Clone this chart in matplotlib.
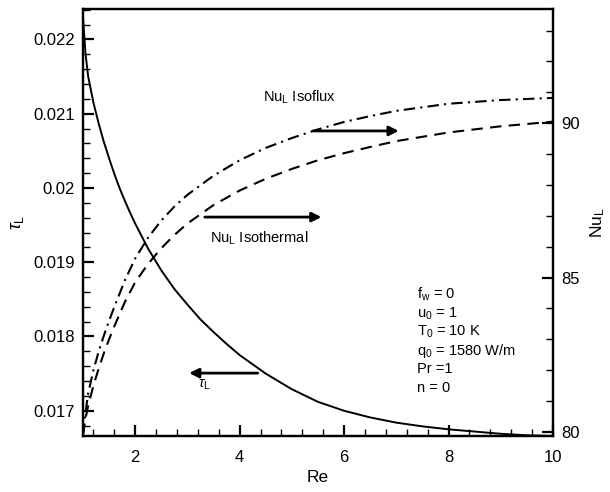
import numpy as np
import matplotlib
matplotlib.use('Agg')
import matplotlib.pyplot as plt
from matplotlib.ticker import MultipleLocator

plt.rcParams['font.family'] = ['Liberation Sans', 'DejaVu Sans']
plt.rcParams['mathtext.fontset'] = 'custom'
plt.rcParams['mathtext.rm'] = 'Liberation Sans'
plt.rcParams['mathtext.it'] = 'Liberation Sans:italic'

# shear stress tau_L vs Re (left axis)
re_tau = [1.0, 1.05, 1.1, 1.2, 1.3, 1.4, 1.5, 1.6, 1.7, 1.8, 1.9, 2.0, 2.25, 2.5,
          2.75, 3.0, 3.25, 3.5, 3.75, 4.0, 4.5, 5.0, 5.5, 6.0, 6.5, 7.0, 7.5, 8.0,
          8.5, 9.0, 9.5, 10.0]
tau_L = [0.02230, 0.02180, 0.02150, 0.02115, 0.02087, 0.02062, 0.02040, 0.02019,
         0.02000, 0.01983, 0.01967, 0.01952, 0.01918, 0.01889, 0.01864, 0.01843,
         0.01823, 0.01806, 0.01790, 0.01775, 0.01750, 0.01729, 0.01712, 0.01700,
         0.01691, 0.01684, 0.01679, 0.01675, 0.01672, 0.01669, 0.01667, 0.01666]

# Nusselt number vs Re (right axis)
re_nu = [1.0, 1.05, 1.1, 1.2, 1.3, 1.4, 1.5, 1.6, 1.8, 2.0, 2.25, 2.5, 2.75, 3.0,
         3.5, 4.0, 4.5, 5.0, 5.5, 6.0, 6.5, 7.0, 8.0, 9.0, 10.0]
nu_isoflux = [79.9, 80.65, 81.25, 82.0, 82.6, 83.12, 83.6, 84.05, 84.9, 85.62,
              86.3, 86.85, 87.3, 87.68, 88.3, 88.8, 89.2, 89.52, 89.8, 90.04,
              90.23, 90.4, 90.63, 90.75, 90.82]
nu_isothermal = [79.9, 80.45, 80.85, 81.5, 82.05, 82.55, 83.0, 83.42, 84.2, 84.85,
                 85.45, 85.95, 86.38, 86.75, 87.35, 87.82, 88.2, 88.52, 88.8, 89.03,
                 89.23, 89.42, 89.7, 89.9, 90.05]

params = ['f$_\\mathrm{w}$ = 0', 'u$_\\mathrm{0}$ = 1', 'T$_\\mathrm{0}$ = 10 K',
          'q$_\\mathrm{0}$ = 1580 W/m', 'Pr =1', 'n = 0']

fig = plt.figure(figsize=(6.1, 4.92), dpi=100)
ax = fig.add_axes([0.136, 0.1138, 0.7705, 0.868])
ax2 = ax.twinx()

ax.plot(re_tau, tau_L, color='k', lw=1.4)
ax2.plot(re_nu, nu_isoflux, color='k', lw=1.5, dashes=(5.5, 2.5, 1, 2.5))
ax2.plot(re_nu, nu_isothermal, color='k', lw=1.5, dashes=(5.5, 3.5))

ax.set_xlim(1, 10)
ax.set_ylim(0.01666, 0.02241)
ax2.set_ylim(79.87, 93.7)

ax.xaxis.set_major_locator(MultipleLocator(2))
ax.xaxis.set_minor_locator(MultipleLocator(0.4))
ax.yaxis.set_major_locator(MultipleLocator(0.001))
ax.yaxis.set_minor_locator(MultipleLocator(0.0002))
ax2.yaxis.set_major_locator(MultipleLocator(5))
ax2.yaxis.set_minor_locator(MultipleLocator(1))
ax.yaxis.set_major_formatter(plt.FuncFormatter(lambda v, p: ('%.3f' % v).rstrip('0')))

for a in (ax, ax2):
    for s in a.spines.values():
        s.set_linewidth(1.6)
ax.tick_params(which='both', direction='in', top=False, right=False, labelsize=12)
ax.tick_params(which='major', length=8, width=1.6, pad=6)
ax.tick_params(which='minor', length=5, width=1)
ax.tick_params(axis='x', which='major', pad=10)
ax2.tick_params(which='both', direction='in', labelsize=12)
ax2.tick_params(which='major', length=8, width=1.6, pad=6)
ax2.tick_params(which='minor', length=5, width=1)

ax.set_xlabel('Re', fontsize=12.5, labelpad=4)
ax.set_ylabel('$\\tau_\\mathrm{L}$', fontsize=13, labelpad=5)
ax2.set_ylabel('Nu$_\\mathrm{L}$', fontsize=12.5, labelpad=6)

# arrows pointing to the axis each curve belongs to
arrow = dict(arrowstyle='-|>', color='k', lw=2, mutation_scale=14)
ax2.annotate('', xy=(7.1, 89.75), xytext=(5.35, 89.75), arrowprops=arrow)
ax2.annotate('', xy=(5.62, 86.96), xytext=(3.28, 86.96), arrowprops=arrow)
ax.annotate('', xy=(2.98, 0.017507), xytext=(4.4, 0.017507), arrowprops=arrow)

ax2.text(5.15, 90.84, 'Nu$_\\mathrm{L}$ Isoflux', fontsize=10.5, ha='center', va='center')
ax2.text(4.38, 86.27, 'Nu$_\\mathrm{L}$ Isothermal', fontsize=10.5, ha='center', va='center')
ax.text(3.33, 0.01735, '$\\tau_\\mathrm{L}$', fontsize=10.5, ha='center', va='center')

for i, s in enumerate(params):
    fig.text(417 / 610, 1 - (299 + i * 18.5) / 492, s, fontsize=10.5,
             ha='left', va='baseline')

fig.savefig('out.png', dpi=100)
